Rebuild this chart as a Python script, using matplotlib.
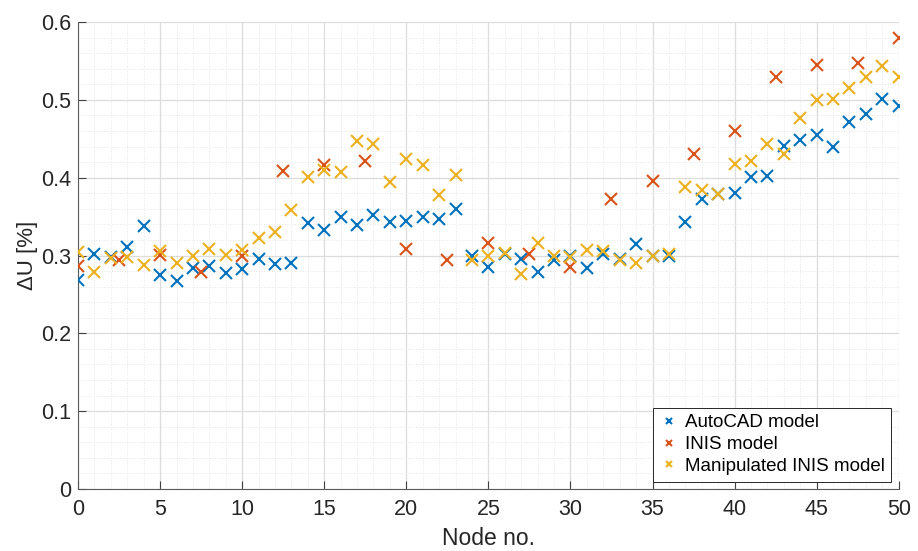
import matplotlib.pyplot as plt
import numpy as np
from matplotlib.ticker import MultipleLocator

plt.rcParams['font.family'] = ['Liberation Sans', 'DejaVu Sans']

# node numbers
nodes = np.arange(0, 51)
nodes_inis = np.arange(0, 50.1, 2.5)

# voltage drop values [%]
autocad = [0.269, 0.302, 0.298, 0.311, 0.338, 0.275, 0.267, 0.284, 0.286, 0.277,
           0.283, 0.295, 0.289, 0.291, 0.342, 0.333, 0.349, 0.339, 0.352, 0.343,
           0.345, 0.350, 0.347, 0.360, 0.299, 0.285, 0.302, 0.296, 0.279, 0.294,
           0.300, 0.284, 0.302, 0.295, 0.315, 0.300, 0.299, 0.343, 0.373, 0.379,
           0.380, 0.401, 0.402, 0.441, 0.449, 0.455, 0.439, 0.472, 0.482, 0.501,
           0.492]
inis = [0.287, 0.294, 0.301, 0.279, 0.299, 0.408, 0.416, 0.422, 0.309, 0.294,
        0.316, 0.302, 0.285, 0.373, 0.396, 0.430, 0.460, 0.529, 0.545, 0.547,
        0.580]
manipulated = [0.305, 0.279, 0.297, 0.298, 0.288, 0.306, 0.291, 0.299, 0.308, 0.301,
               0.307, 0.322, 0.330, 0.358, 0.401, 0.410, 0.407, 0.447, 0.443, 0.395,
               0.424, 0.416, 0.378, 0.404, 0.294, 0.300, 0.303, 0.276, 0.316, 0.299,
               0.298, 0.307, 0.306, 0.294, 0.291, 0.300, 0.302, 0.388, 0.384, 0.379,
               0.417, 0.422, 0.443, 0.431, 0.477, 0.500, 0.501, 0.515, 0.529, 0.544,
               0.530]

fig = plt.figure(figsize=(9.18, 5.51), dpi=100)
ax = fig.add_axes([0.085, 0.1125, 0.894, 0.8475])

blue = (0, 0.447, 0.741)
red = (0.85, 0.325, 0.098)
yellow = (0.929, 0.694, 0.125)

ms = 9
mew = 1.5
ax.plot(nodes, autocad, 'x', color=blue, ms=ms, mew=mew, label='AutoCAD model', zorder=3)
ax.plot(nodes_inis, inis, 'x', color=red, ms=ms, mew=mew, label='INIS model', zorder=3)
ax.plot(nodes, manipulated, 'x', color=yellow, ms=ms, mew=mew, label='Manipulated INIS model', zorder=3)

ax.set_xlim(0, 50)
ax.set_ylim(0, 0.6)
ax.xaxis.set_major_locator(MultipleLocator(5))
ax.xaxis.set_minor_locator(MultipleLocator(1))
ax.set_yticks(np.arange(0, 0.61, 0.1))
ax.set_yticklabels(['0', '0.1', '0.2', '0.3', '0.4', '0.5', '0.6'])
ax.yaxis.set_minor_locator(MultipleLocator(0.02))

ax.grid(which='major', color='#dcdcdc', linewidth=0.9, linestyle='-')
ax.grid(which='minor', color='#e6e6e6', linewidth=0.7, linestyle=':')
ax.set_axisbelow(True)

for s in ['top', 'right']:
    ax.spines[s].set_visible(False)
for s in ['left', 'bottom']:
    ax.spines[s].set_color('#5a5a5a')
    ax.spines[s].set_linewidth(0.8)

ax.tick_params(which='major', direction='in', length=6, width=0.8, color='#404040',
               labelsize=15.5, labelcolor='#262626')
ax.tick_params(which='minor', length=0)
ax.tick_params(axis='x', pad=7)
ax.tick_params(axis='y', pad=5)

ax.set_xlabel('Node no.', fontsize=16.5, color='#262626', labelpad=5)
ax.set_ylabel('ΔU [%]', fontsize=16, color='#262626', labelpad=2)

leg = ax.legend(loc='lower right', fontsize=13.5, markerscale=0.45, handlelength=1.0,
                handletextpad=0.35, borderaxespad=0.4, fancybox=False, framealpha=1,
                borderpad=0.35, labelspacing=0.25)
leg.get_frame().set_edgecolor('#262626')
leg.get_frame().set_linewidth(0.7)

fig.savefig('out.png', dpi=100)
